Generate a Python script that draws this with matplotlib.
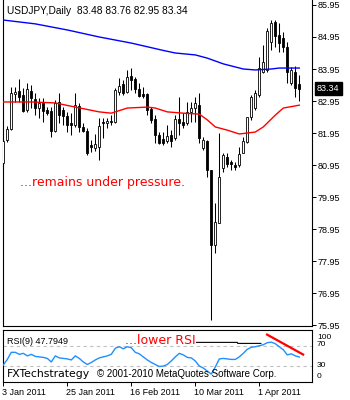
import matplotlib
matplotlib.use('Agg')
import matplotlib.pyplot as plt
import matplotlib.transforms as mtransforms

plt.rcParams['font.family'] = ['Liberation Sans', 'DejaVu Sans']

# USDJPY daily bars, 3 Jan 2011 onwards
opens = [81.01, 81.73, 82.07, 83.17, 83.26, 83.14, 82.67, 83.26, 83.01, 82.73,
         82.89, 82.67, 82.64, 82.01, 82.92, 82.67, 82.48, 82.26, 82.20, 82.79,
         82.14, 82.01, 81.57, 81.48, 81.51, 82.29, 82.26, 82.32, 82.29, 83.23,
         83.48, 83.23, 83.73, 83.64, 83.32, 83.17, 83.17, 82.70, 82.39, 81.89,
         81.76, 81.70, 81.89, 81.79, 82.39, 82.29, 82.26, 82.61, 82.73, 82.82,
         81.48, 81.70, 80.79, 78.45, 79.14, 80.86, 81.20, 81.04, 80.95, 80.95,
         81.32, 81.67, 82.45, 82.73, 83.14, 83.86, 83.92, 84.79, 85.42, 85.01,
         84.92, 84.64, 83.51, 83.86, 83.48]
highs = [81.76, 82.17, 83.39, 83.39, 83.64, 83.36, 83.51, 83.45, 83.20, 83.04,
         83.04, 82.76, 82.76, 82.98, 83.20, 82.76, 82.61, 82.57, 83.20, 82.89,
         82.26, 82.11, 81.73, 81.92, 82.42, 82.42, 82.42, 82.51, 83.36, 83.67,
         83.61, 83.92, 83.98, 83.70, 83.51, 83.39, 83.20, 82.76, 82.51, 81.98,
         81.98, 82.20, 82.04, 82.51, 83.07, 82.57, 82.92, 82.92, 83.07, 83.20,
         81.82, 81.73, 80.79, 79.76, 81.95, 81.32, 81.32, 81.11, 81.04, 81.51,
         81.82, 82.45, 83.14, 83.29, 84.32, 84.70, 85.23, 85.48, 85.48, 85.39,
         85.11, 84.79, 84.01, 84.04, 83.76]
lows = [80.98, 81.67, 82.04, 82.92, 82.92, 82.61, 82.61, 82.73, 82.51, 82.42,
        82.29, 82.51, 81.82, 81.98, 82.26, 82.20, 81.98, 81.89, 82.14, 81.98,
        81.98, 81.26, 81.36, 81.39, 81.11, 81.79, 82.11, 82.20, 82.26, 83.14,
        83.14, 83.20, 83.29, 83.20, 83.07, 83.04, 82.51, 82.26, 81.64, 81.61,
        81.57, 81.64, 81.51, 81.73, 81.89, 82.11, 82.20, 82.29, 82.29, 81.64,
        81.42, 80.57, 76.11, 78.20, 79.14, 80.73, 80.89, 80.79, 80.79, 80.89,
        81.32, 81.64, 82.36, 82.67, 83.07, 83.82, 83.86, 84.54, 84.64, 84.48,
        84.48, 83.51, 83.45, 83.07, 82.95]
closes = [81.70, 82.07, 83.20, 83.23, 83.07, 82.64, 83.32, 83.04, 82.73, 82.89,
          82.64, 82.57, 82.01, 82.89, 82.51, 82.48, 82.20, 82.20, 82.82, 82.14,
          82.01, 81.32, 81.51, 81.61, 82.17, 82.26, 82.32, 82.29, 83.29, 83.42,
          83.20, 83.70, 83.61, 83.32, 83.11, 83.11, 82.67, 82.36, 81.89, 81.64,
          81.64, 81.86, 81.70, 82.39, 82.26, 82.20, 82.61, 82.73, 82.89, 81.79,
          81.73, 80.79, 78.45, 79.17, 80.57, 81.26, 80.98, 80.98, 80.89, 81.29,
          81.70, 82.45, 83.07, 83.20, 83.98, 84.17, 85.14, 85.39, 84.98, 84.76,
          84.64, 83.86, 83.92, 83.36, 83.34]

# moving averages read at a few bars
ma_blue_bar = [0, 8, 16, 24, 32, 40, 43, 48, 51, 55, 60, 63, 67, 69, 74]
ma_blue = [85.48, 85.36, 85.17, 84.95, 84.76, 84.53, 84.45, 84.39, 84.29, 84.11,
           83.95, 83.92, 83.95, 83.98, 83.98]
ma_red_bar = [0, 7, 13, 18, 24, 27, 31, 36, 38, 41, 45, 49, 51, 53, 56, 59, 61,
              63, 65, 68, 70, 74]
ma_red = [82.92, 82.92, 82.89, 82.76, 82.61, 82.57, 82.73, 82.76, 82.73, 82.61,
          82.57, 82.54, 82.36, 82.14, 82.04, 81.92, 81.95, 81.98, 82.14, 82.51,
          82.73, 82.82]

rsi = [32, 43, 57, 57, 53, 55, 50, 53, 49, 48, 47, 45, 38, 50, 46, 45, 44, 42,
       50, 45, 38, 33, 37, 42, 46, 48, 50, 53, 65, 68, 64, 68, 66, 57, 54, 48,
       42, 37, 33, 29, 30, 33, 40, 48, 55, 52, 47, 46, 40, 30, 26, 20, 14, 28,
       44, 45, 44, 43, 43, 48, 55, 63, 67, 68, 70, 72, 76, 77, 74, 68, 62, 52,
       54, 50, 47.79]
rsi_levels = [70, 30]
rsi_label_text = ['100', '70', '30', '0']

# hand-drawn marks in the RSI window
flat_line_bar = [48.3, 58.5, 58.6, 64.4]
flat_line_rsi = [76.6, 76.6, 74.6, 74.6]
trend_bar = [65.7, 75.2]
trend_rsi = [93, 51.6]

price_ticks = [75.95, 76.95, 77.95, 78.95, 79.95, 80.95, 81.95, 82.95, 83.95,
               84.95, 85.95]
date_bars = [0, 16, 32, 48, 64]
date_labels = ['3 Jan 2011', '25 Jan 2011', '16 Feb 2011', '10 Mar 2011',
               '1 Apr 2011']
last_price = 83.34

W, H = 350, 400
fig = plt.figure(figsize=(3.5, 4), dpi=100)
ax = fig.add_axes([3 / W, 74 / H, 309 / W, 326 / H])
ax2 = fig.add_axes([3 / W, 18 / H, 309 / W, 52 / H])

n = len(opens)
bars = list(range(n))
for i in bars:
    o, hi, lo, c = opens[i], highs[i], lows[i], closes[i]
    ax.vlines(i, lo, hi, color='black', lw=0.75, zorder=2)
    fc = 'white' if c > o else 'black'
    ax.bar(i, max(abs(c - o), 0.02), bottom=min(o, c), width=0.55,
           facecolor=fc, edgecolor='black', lw=0.6, zorder=3)

ax.plot(ma_blue_bar, ma_blue, color='#0000ff', lw=1.0, zorder=4)
ax.plot(ma_red_bar, ma_red, color='#ff0000', lw=1.0, zorder=4)

ax.set_xlim(-0.075, 77.175)
ax.set_ylim(75.92, 86.106)
ax.set_xticks([])
ax.yaxis.tick_right()
ax.set_yticks(price_ticks)
ax.set_yticklabels(['%.2f' % v for v in price_ticks])
ax.tick_params(axis='y', length=3, width=0.7, pad=1, labelsize=6.5,
               colors='black')
ax.spines['top'].set_visible(False)
for s in ['left', 'right', 'bottom']:
    ax.spines[s].set_linewidth(0.8)

ax.annotate('%.2f' % last_price, xy=(1.0, last_price),
            xycoords=('axes fraction', 'data'), xytext=(3.5, 0),
            textcoords='offset points', ha='left', va='center',
            fontsize=6.5, color='white', annotation_clip=False,
            bbox=dict(boxstyle='square,pad=0.25', fc='black', ec='black'))

fig.text(7 / W, 1 - 11 / H, 'USDJPY,Daily  83.48 83.76 82.95 83.34',
         fontsize=7.3, va='center', ha='left')
fig.text(20 / W, 1 - 182 / H, '...remains under pressure.', color='#ff0000',
         fontsize=9, va='center', ha='left', family='DejaVu Sans')

# RSI window
ax2.plot(bars, rsi, color='#1e90ff', lw=1.0, zorder=3)
for lv in rsi_levels:
    ax2.axhline(lv, color='#c0c0c0', lw=0.8, ls=(0, (3, 3)), zorder=1)
ax2.plot(flat_line_bar, flat_line_rsi, color='black', lw=0.8, zorder=4)
ax2.plot(trend_bar, trend_rsi, color='#ff0000', lw=1.6, zorder=4,
         solid_capstyle='butt')
ax2.set_xlim(-0.075, 77.175)
ax2.set_ylim(-1.5, 101)
ax2.yaxis.tick_right()
ax2.set_yticks([89.0, 73.5, 33.3, 12.2])
ax2.set_yticklabels(rsi_label_text)
ax2.tick_params(axis='y', length=0, pad=3.5, labelsize=6.0)
ax2.set_xticks(date_bars)
ax2.set_xticklabels(date_labels)
ax2.tick_params(axis='x', length=3, width=0.7, pad=1, labelsize=6.5)
for lbl in ax2.get_xticklabels():
    lbl.set_ha('left')
    lbl.set_transform(lbl.get_transform() + mtransforms.ScaledTranslation(
        -1 / 100, 0, fig.dpi_scale_trans))
for s in ax2.spines.values():
    s.set_linewidth(0.8)

fig.text(7 / W, 1 - 341 / H, 'RSI(9) 47.7949', fontsize=6.5, va='center')
fig.text(125 / W, 1 - 341 / H, '...lower RSI', color='#ff0000', fontsize=9,
         va='center', family='DejaVu Sans')
fig.text(7 / W, 1 - 374 / H, 'FXTechstrategy', fontsize=7.8, va='center',
         family='DejaVu Sans')
fig.text(97 / W, 1 - 374 / H, '\u00a9 2001-2010 MetaQuotes Software Corp.',
         fontsize=7, va='center')

fig.savefig('out.png', dpi=100)
